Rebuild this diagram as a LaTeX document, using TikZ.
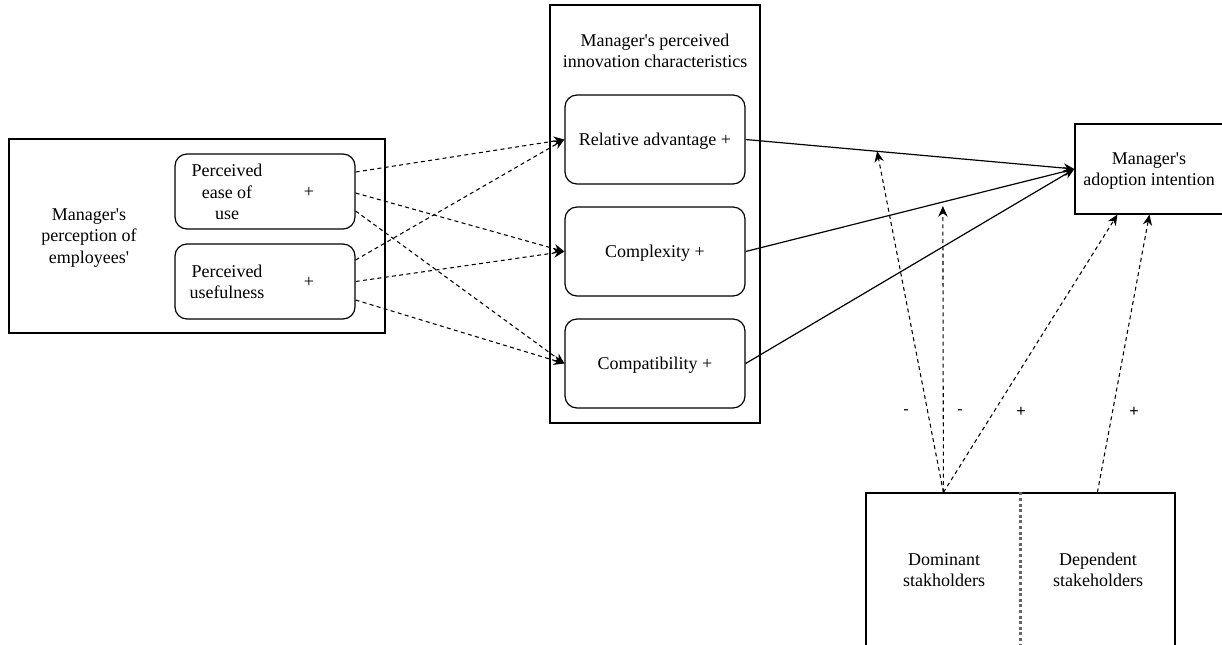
\documentclass[tikz,border=0pt]{standalone}
\usepackage{fontspec}
\setmainfont{Liberation Serif}
\newfontfamily\signfont{Liberation Sans}
\usetikzlibrary{arrows.meta,calc}
\newcommand{\apo}{\textquotesingle}
\begin{document}
\begin{tikzpicture}[x=0.75pt,y=-0.75pt,
  box/.style={draw, line width=0.9pt, inner sep=0pt},
  rbox/.style={draw, line width=0.9pt, rounded corners=9pt, inner sep=0pt},
  txt/.style={font=\fontsize{13.5}{16}\selectfont, align=center, inner sep=0pt},
  sgn/.style={font=\signfont\fontsize{12}{12}\selectfont, inner sep=0pt},
  dsh/.style={dash pattern=on 3pt off 2.5pt, line width=0.8pt, -{Stealth[length=8pt,width=7pt]}},
  sol/.style={line width=0.9pt, -{Stealth[length=8pt,width=7pt]}}
]
\useasboundingbox (0,0) rectangle (1222,644);

% left group
\node[box, minimum width=282pt, minimum height=145.5pt] (left) at (197,236) {};
\node[txt] (leftlbl) at (89,238) {Manager\apo s\\perception of\\employees\apo};
\node[rbox, minimum width=135pt, minimum height=56.25pt] (ease) at (265,191.5) {};
\node[txt] (easelbl) at (227,192) {Perceived\\ease of\\use};
\node[txt] (easeplus) at (309,192) {+};
\node[rbox, minimum width=135pt, minimum height=56.25pt] (useful) at (265,281.5) {};
\node[txt] (usefullbl) at (227,282) {Perceived\\usefulness};
\node[txt] (usefulplus) at (309,282) {+};

% middle group
\node[box, minimum width=157.5pt, minimum height=313.5pt] (mid) at (655,214) {};
\node[txt] (midlbl) at (655,51) {Manager\apo s perceived\\innovation characteristics};
\node[rbox, minimum width=135pt, minimum height=66.75pt] (rel) at (655,139.5) {};
\node[rbox, minimum width=135pt, minimum height=66.75pt] (cpx) at (655,251.5) {};
\node[rbox, minimum width=135pt, minimum height=66.75pt] (cmp) at (655,363.5) {};
\node[txt] (rellbl) at (655,141) {Relative advantage +};
\node[txt] (cpxlbl) at (655,253) {Complexity +};
\node[txt] (cmplbl) at (655,365) {Compatibility +};

% adoption
\node[box, minimum width=111.75pt, minimum height=67.5pt] (adopt) at (1149.5,169) {};
\node[txt] (adoptlbl) at (1149,171) {Manager\apo s\\adoption intention};

% stakeholders
\node[box, minimum width=231.75pt, minimum height=117.75pt] (stake) at (1020.5,571.5) {};
\draw[gray!80!black, line width=1.8pt, dash pattern=on 2.2pt off 2pt] (stake.north) -- (stake.south);
\node[txt] (dom) at (944,570) {Dominant\\stakholders};
\node[txt] (dep) at (1098,570) {Dependent\\stakeholders};

% dashed arrows left -> middle
\draw[dsh] ($(ease.east)+(0,-19.5)$) -- (rel.west);
\draw[dsh] ($(ease.east)+(0,1.5)$) -- (cpx.west);
\draw[dsh] ($(ease.east)+(0,19.5)$) -- (cmp.west);
\draw[dsh] ($(useful.east)+(0,-21.5)$) -- (rel.west);
\draw[dsh] (useful.east) -- (cpx.west);
\draw[dsh] ($(useful.east)+(0,18.5)$) -- (cmp.west);

% solid arrows middle -> adoption
\draw[sol] (rel.east) -- (adopt.west);
\draw[sol] (cpx.east) -- (adopt.west);
\draw[sol] (cmp.east) -- (adopt.west);

% moderators
\coordinate (m1) at ($(rel.east)!0.4!(adopt.west)$);
\coordinate (m2) at ($(cpx.east)!0.6!(adopt.west)+(0,4)$);
\coordinate (a1) at ($(adopt.south west)+(43,0)$);
\coordinate (a2) at ($(adopt.south west)+(75,0)$);
\coordinate (s1) at ($(stake.north west)+(78,0)$);
\coordinate (s2) at ($(stake.north west)+(232,0)$);
\draw[dsh] (s1) -- (m1);
\draw[dsh] (s1) -- (m2);
\draw[dsh] (s1) -- (a1);
\draw[dsh] (s2) -- (a2);

\node[sgn] (sg1) at (906,412) {-};
\node[sgn] (sg2) at (960,412) {-};
\node[sgn] (sg3) at (1021,412) {+};
\node[sgn] (sg4) at (1134,412) {+};
\end{tikzpicture}
\end{document}
